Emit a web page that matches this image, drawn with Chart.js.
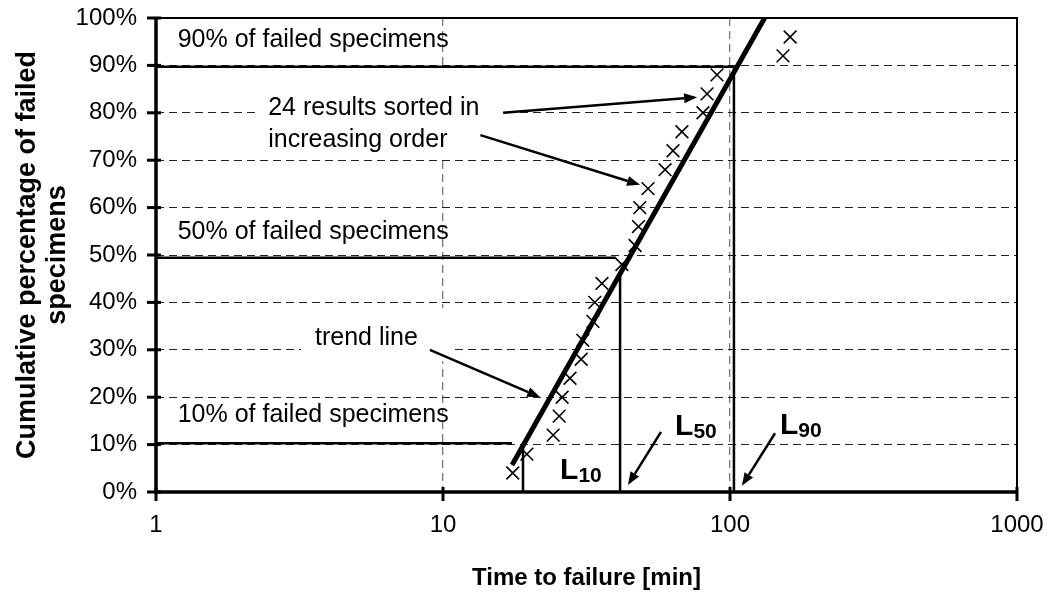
<!DOCTYPE html>
<html>
<head>
<meta charset="utf-8">
<script src="https://cdn.jsdelivr.net/npm/chart.js@4.4.0/dist/chart.umd.min.js"></script>
<style>
  html, body { margin: 0; padding: 0; background: #fff; }
  #wrap { width: 1050px; height: 598px; }
</style>
</head>
<body>
<div id="wrap"><canvas id="chart" width="1050" height="598"></canvas></div>
<script>
// 24 results sorted in increasing order
var failureTimes = [17.5, 19.6, 24.2, 25.4, 26.0, 27.7, 30.3, 30.7, 33.3, 33.8, 35.8, 42.0,
                    46.7, 48.0, 48.5, 51.8, 59.4, 63.3, 68.0, 80.5, 83.2, 90.1, 153, 162];
var cumulativePct = [4, 8, 12, 16, 20, 24, 28, 32, 36, 40, 44, 48,
                     52, 56, 60, 64, 68, 72, 76, 80, 84, 88, 92, 96];
// trend line end points
var trendTimes = [17.4, 132];
var trendPct = [5.7, 100];
// guide lines for L10, L50, L90
var guidePct = [10.3, 49.4, 89.7];
var guideEndTimes = [17.4, 40.0, 103.2];
var lifeTimes = [19.0, 41.4, 103.2];
var lifeTopPct = [9.5, 46.0, 89.7];
// tick labels
var xTicks = [1, 10, 100, 1000];
var yTicks = [0, 10, 20, 30, 40, 50, 60, 70, 80, 90, 100];

var FONT = '"Liberation Sans", Arial, sans-serif';

// guide line datasets
var guideSets = [];
for (var i = 0; i < guidePct.length; i++) {
    guideSets.push({
        type: 'line',
        data: [{ x: 1, y: guidePct[i] }, { x: guideEndTimes[i], y: guidePct[i] }],
        borderColor: '#000', borderWidth: 2.5, pointRadius: 0, fill: false
    });
    guideSets.push({
        type: 'line',
        data: [{ x: lifeTimes[i], y: lifeTopPct[i] }, { x: lifeTimes[i], y: 0 }],
        borderColor: '#000', borderWidth: 2.5, pointRadius: 0, fill: false
    });
}

// texts and arrows, in data coordinates
var notes = [
    { text: '90% of failed specimens', x: 1.19, y: 95.4 },
    { text: '24 results sorted in', x: 2.46, y: 81.0, box: [2.29, 89.2, 16.4, 70.7] },
    { text: 'increasing order', x: 2.46, y: 74.3 },
    { text: '50% of failed specimens', x: 1.19, y: 54.9 },
    { text: 'trend line', x: 3.58, y: 32.5, box: [3.2, 38.8, 11.0, 27.6] },
    { text: '10% of failed specimens', x: 1.19, y: 16.2 }
];
var lifeLabels = [
    { sub: '10', x: 26.0, y: 5.1 },
    { sub: '50', x: 65.4, y: 14.3 },
    { sub: '90', x: 151.8, y: 14.6 }
];
var arrows = [
    [16.2, 80.0, 76.8, 83.3],
    [13.5, 75.3, 48.6, 64.8],
    [9.0, 30.0, 21.8, 20.0],
    [57.5, 12.7, 44.1, 1.5],
    [143.5, 12.4, 110, 1.3]
];

function drawArrow(ctx, x1, y1, x2, y2) {
    var ang = Math.atan2(y2 - y1, x2 - x1);
    var len = 13, half = 5;
    var bx = x2 - len * Math.cos(ang), by = y2 - len * Math.sin(ang);
    ctx.beginPath();
    ctx.moveTo(x1, y1);
    ctx.lineTo(bx, by);
    ctx.lineWidth = 2.5;
    ctx.stroke();
    ctx.beginPath();
    ctx.moveTo(x2, y2);
    ctx.lineTo(bx + half * Math.sin(ang), by - half * Math.cos(ang));
    ctx.lineTo(bx - half * Math.sin(ang), by + half * Math.cos(ang));
    ctx.closePath();
    ctx.fill();
}

var decorPlugin = {
    id: 'decor',
    beforeDatasetsDraw: function (chart) {
        var ctx = chart.ctx, xs = chart.scales.x, ys = chart.scales.y;
        ctx.save();
        ctx.fillStyle = '#fff';
        notes.forEach(function (n) {
            if (!n.box) return;
            var l = xs.getPixelForValue(n.box[0]), t = ys.getPixelForValue(n.box[1]);
            var r = xs.getPixelForValue(n.box[2]), b = ys.getPixelForValue(n.box[3]);
            ctx.fillRect(l, t, r - l, b - t);
        });
        ctx.restore();
    },
    afterDraw: function (chart) {
        var ctx = chart.ctx, a = chart.chartArea, xs = chart.scales.x, ys = chart.scales.y;
        ctx.save();
        ctx.strokeStyle = '#000';
        ctx.fillStyle = '#000';
        ctx.setLineDash([]);

        // top and right border
        ctx.lineWidth = 2;
        ctx.beginPath();
        ctx.moveTo(a.left, a.top);
        ctx.lineTo(a.right, a.top);
        ctx.lineTo(a.right, a.bottom);
        ctx.stroke();

        // axes
        ctx.lineWidth = 3.5;
        ctx.beginPath();
        ctx.moveTo(a.left, a.top - 1);
        ctx.lineTo(a.left, a.bottom);
        ctx.lineTo(a.right + 1, a.bottom);
        ctx.stroke();

        // cross tick marks
        ctx.lineWidth = 3;
        yTicks.forEach(function (v) {
            var y = ys.getPixelForValue(v);
            ctx.beginPath();
            ctx.moveTo(a.left - 9, y);
            ctx.lineTo(a.left + 5, y);
            ctx.stroke();
        });
        xTicks.forEach(function (v) {
            var x = xs.getPixelForValue(v);
            ctx.beginPath();
            ctx.moveTo(x, a.bottom - 5);
            ctx.lineTo(x, a.bottom + 9);
            ctx.stroke();
        });

        // notes
        ctx.font = '25px ' + FONT;
        ctx.textAlign = 'left';
        ctx.textBaseline = 'middle';
        notes.forEach(function (n) {
            ctx.fillText(n.text, xs.getPixelForValue(n.x), ys.getPixelForValue(n.y));
        });

        // L labels
        lifeLabels.forEach(function (l) {
            var x = xs.getPixelForValue(l.x), y = ys.getPixelForValue(l.y);
            ctx.font = 'bold 30px ' + FONT;
            ctx.textBaseline = 'alphabetic';
            ctx.fillText('L', x - 2, y + 11);
            var w = ctx.measureText('L').width;
            ctx.font = 'bold 21px ' + FONT;
            ctx.fillText(l.sub, x - 2 + w, y + 14);
        });

        // arrows
        arrows.forEach(function (r) {
            drawArrow(ctx, xs.getPixelForValue(r[0]), ys.getPixelForValue(r[1]),
                      xs.getPixelForValue(r[2]), ys.getPixelForValue(r[3]));
        });

        // axis titles
        ctx.font = 'bold 24px ' + FONT;
        ctx.textAlign = 'center';
        ctx.textBaseline = 'middle';
        ctx.fillText('Time to failure [min]', (a.left + a.right) / 2, 578);
        ctx.font = 'bold 27px ' + FONT;
        ctx.save();
        ctx.translate(0, (a.top + a.bottom) / 2);
        ctx.rotate(-Math.PI / 2);
        ctx.fillText('Cumulative percentage of failed', 0, 28);
        ctx.fillText('specimens', 0, 58);
        ctx.restore();

        ctx.restore();
    }
};

new Chart(document.getElementById('chart').getContext('2d'), {
    type: 'scatter',
    data: {
        datasets: [{
            type: 'line',
            data: trendTimes.map(function (t, k) { return { x: t, y: trendPct[k] }; }),
            borderColor: '#000', borderWidth: 5, pointRadius: 0, fill: false
        }].concat(guideSets).concat([{
            data: failureTimes.map(function (t, k) { return { x: t, y: cumulativePct[k] }; }),
            pointStyle: 'crossRot', pointRadius: 9, pointBorderWidth: 1.6,
            pointBorderColor: '#000', pointBackgroundColor: '#000'
        }])
    },
    options: {
        responsive: false,
        animation: false,
        layout: { padding: { top: 18, right: 33, left: 0, bottom: 0 } },
        plugins: { legend: { display: false }, tooltip: { enabled: false } },
        scales: {
            x: {
                type: 'logarithmic', min: 1, max: 1000,
                afterBuildTicks: function (s) { s.ticks = xTicks.map(function (v) { return { value: v }; }); },
                afterFit: function (s) { s.height = 106; s.paddingLeft = 0; s.paddingRight = 0; },
                ticks: {
                    autoSkip: false, maxRotation: 0, padding: 19, color: '#000',
                    font: { family: FONT, size: 24 },
                    callback: function (v) { return String(v); }
                },
                grid: {
                    drawTicks: false, lineWidth: 1.3,
                    color: function (c) {
                        var v = c.tick && c.tick.value;
                        return (v === 10 || v === 100) ? '#7a7a7a' : 'rgba(0,0,0,0)';
                    }
                },
                border: { display: false, dash: [8, 5] }
            },
            y: {
                min: 0, max: 100,
                afterBuildTicks: function (s) { s.ticks = yTicks.map(function (v) { return { value: v }; }); },
                afterFit: function (s) { s.width = 156; s.paddingTop = 0; s.paddingBottom = 0; },
                ticks: {
                    padding: 19, color: '#000',
                    font: { family: FONT, size: 24 },
                    callback: function (v) { return v + '%'; }
                },
                grid: {
                    drawTicks: false, lineWidth: 1,
                    color: function (c) {
                        var v = c.tick && c.tick.value;
                        return (v > 0 && v < 100) ? '#222' : 'rgba(0,0,0,0)';
                    }
                },
                border: { display: false, dash: [8, 5] }
            }
        }
    },
    plugins: [decorPlugin]
});
</script>
</body>
</html>
